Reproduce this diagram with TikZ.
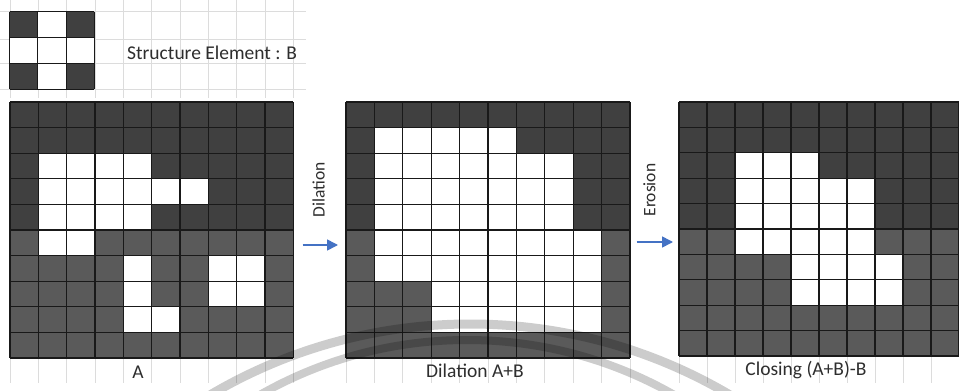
\documentclass[tikz,border=0pt]{standalone}
\usepackage{fontspec}
\setmainfont{Carlito}
\usetikzlibrary{arrows.meta}
\definecolor{cdark}{HTML}{404040}
\definecolor{clight}{HTML}{5A5A5A}
\definecolor{sheet}{HTML}{DCDCDC}
\definecolor{arrowblue}{RGB}{68,114,196}
\definecolor{txt}{HTML}{2E2E2E}
\tikzset{
  gline/.style={draw=black!90,line width=1.1pt},
  sheetline/.style={draw=sheet,line width=0.8pt},
  lbl/.style={inner sep=0pt,text=txt,font=\fontsize{19.5}{22}\selectfont},
  rotlbl/.style={inner sep=0pt,text=txt,rotate=90,font=\fontsize{17.5}{20}\selectfont},
  flowarrow/.style={draw=arrowblue,line width=1.6pt,-{Triangle[length=11pt,width=11pt]}},
  wmark/.style={draw=black,opacity=0.2}
}
\newcommand{\morphgrid}[5]{%
  \fill[cdark] (#1,#2) rectangle ({#1+10*#3},{#2+5*#4});
  \fill[clight] (#1,{#2+5*#4}) rectangle ({#1+10*#3},{#2+10*#4});
  \foreach \ca/\ra/\cb/\rb in {#5}
    \fill[white] ({#1+\ca*#3},{#2+\ra*#4}) rectangle ({#1+\cb*#3},{#2+\rb*#4});
  \foreach \k in {0,...,10}{
    \draw[gline] ({#1+\k*#3},#2) -- ({#1+\k*#3},{#2+10*#4});
    \draw[gline] (#1,{#2+\k*#4}) -- ({#1+10*#3},{#2+\k*#4});
  }
  \foreach \k in {0,...,10}
    \draw[sheetline] ({#1+\k*#3},{#2+10*#4+1}) -- ({#1+\k*#3},383);
}
\begin{document}
\begin{tikzpicture}[x=1pt,y=-1pt]
\useasboundingbox (0,0) rectangle (959,391);
\fill[white] (0,0) rectangle (959,391);
% light spreadsheet grid, top left
\foreach \yy in {11.7,39,63.3,89.3}
  \draw[sheetline] (0,\yy) -- (306,\yy);
\foreach \k in {0,...,10}
  \draw[sheetline] ({10+\k*28.33},0) -- ({10+\k*28.33},98);
% structure element B
\fill[white] (9.5,11.7) rectangle ({9.5+3*28.3},{11.7+3*25.9});
\foreach \c/\r in {0/0,2/0,0/2,2/2}
  \fill[cdark] ({9.5+\c*28.3},{11.7+\r*25.9}) rectangle ++(28.3,25.9);
\foreach \k in {0,...,3}{
  \draw[gline] ({9.5+\k*28.3},11.7) -- ({9.5+\k*28.3},{11.7+3*25.9});
  \draw[gline] (9.5,{11.7+\k*25.9}) -- ({9.5+3*28.3},{11.7+\k*25.9});
}
\node[lbl,anchor=base west] (selabel) at (127,59.5) {Structure Element : B};
% grid A
\morphgrid{10}{102}{28.33}{25.6}{1/2/5/5,5/3/7/4,1/5/3/6,4/6/5/9,5/8/6/9,7/6/9/8}
% dilation
\morphgrid{346}{102}{28.4}{25.6}{1/1/6/2,1/2/8/5,1/5/9/7,3/7/9/9}
% closing
\morphgrid{679}{102}{28}{25.4}{2/2/5/3,2/3/7/6,4/6/8/8}
% labels
\node[lbl,anchor=base] (la) at (138,378) {A};
\node[lbl,anchor=base] (ld) at (475,377.5) {Dilation A+B};
\node[lbl,anchor=base] (lc) at (806,375.5) {Closing (A+B)-B};
% operations
\node[rotlbl] (opd) at (318.5,190) {Dilation};
\node[rotlbl] (ope) at (649.5,190) {Erosion};
\coordinate (d1) at (302.5,245);
\coordinate (d2) at (338,245);
\coordinate (e1) at (636.5,242);
\coordinate (e2) at (673,242);
\draw[flowarrow] (d1) -- (d2);
\draw[flowarrow] (e1) -- (e2);
% watermark arcs
\begin{scope}
\clip (0,0) rectangle (959,391);
\draw[wmark,line width=9pt] (470,835) circle[radius=511];
\draw[wmark,line width=8pt] (467,758) circle[radius=418];
\end{scope}
\end{tikzpicture}
\end{document}
